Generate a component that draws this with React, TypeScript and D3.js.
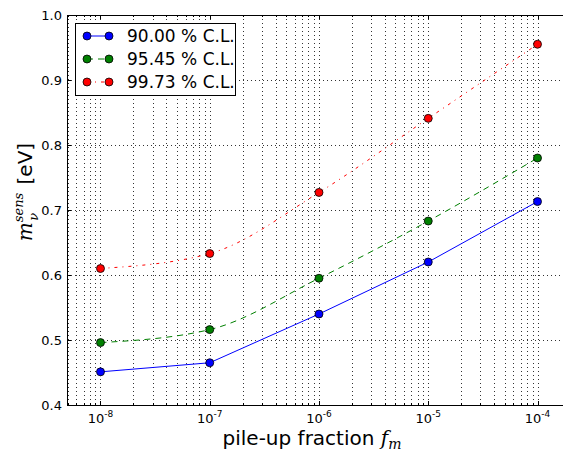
import React, { useEffect, useRef } from 'react';
import * as d3 from 'd3';

// pile-up fraction vs neutrino mass sensitivity, three confidence levels
const fractions = [1e-8, 1e-7, 1e-6, 1e-5, 1e-4];
const cl9000 = [0.451, 0.465, 0.540, 0.620, 0.713];
const cl9545 = [0.496, 0.516, 0.595, 0.683, 0.780];
const cl9973 = [0.610, 0.633, 0.727, 0.841, 0.955];
const seriesLabels = ['90.00 % C.L.', '95.45 % C.L.', '99.73 % C.L.'];
const yTicks = [0.4, 0.5, 0.6, 0.7, 0.8, 0.9, 1.0];
const xTickExps = [-8, -7, -6, -5, -4];

const W = 563;
const H = 452;
const PLOT = { left: 67, right: 565, top: 15, bottom: 405 };
const FONT = 'DejaVu Sans, sans-serif';

const App = () => {
  const svgRef = useRef<SVGSVGElement | null>(null);

  useEffect(() => {
    const svg = d3.select(svgRef.current);
    svg.selectAll('*').remove();

    const x = d3.scaleLog()
      .domain([Math.pow(10, -8.3066), Math.pow(10, -3.7483)])
      .range([PLOT.left, PLOT.right]);
    const y = d3.scaleLinear().domain([0.4, 1.0]).range([PLOT.bottom, PLOT.top]);
    const [x0, x1] = x.domain();

    const g = svg.append('g');

    // grid: x major + minor, y major
    const minor: number[] = [];
    for (let e = -9; e <= -3; e++) {
      for (let k = 1; k <= 9; k++) {
        const v = k * Math.pow(10, e);
        if (v >= x0 && v <= x1) minor.push(v);
      }
    }
    g.append('g').selectAll('line').data(minor).enter().append('line')
      .attr('x1', d => Math.round(x(d)) + 0.5).attr('x2', d => Math.round(x(d)) + 0.5)
      .attr('y1', PLOT.top).attr('y2', PLOT.bottom)
      .attr('stroke', '#000').attr('stroke-width', 0.8).attr('stroke-dasharray', '1,3');
    g.append('g').selectAll('line').data(yTicks.slice(1, -1)).enter().append('line')
      .attr('x1', PLOT.left).attr('x2', PLOT.right)
      .attr('y1', d => Math.round(y(d)) + 0.5).attr('y2', d => Math.round(y(d)) + 0.5)
      .attr('stroke', '#000').attr('stroke-width', 0.8).attr('stroke-dasharray', '1,3');

    // ticks (inward)
    const ticks = g.append('g').attr('stroke', '#000').attr('stroke-width', 1);
    minor.forEach(v => {
      const major = xTickExps.some(e => Math.abs(v - Math.pow(10, e)) < v * 1e-6);
      const len = major ? 4 : 2;
      const xx = Math.round(x(v)) + 0.5;
      ticks.append('line').attr('x1', xx).attr('x2', xx).attr('y1', PLOT.bottom).attr('y2', PLOT.bottom - len);
      ticks.append('line').attr('x1', xx).attr('x2', xx).attr('y1', PLOT.top).attr('y2', PLOT.top + len);
    });
    yTicks.forEach(v => {
      const yy = Math.round(y(v)) + 0.5;
      ticks.append('line').attr('x1', PLOT.left).attr('x2', PLOT.left + 4).attr('y1', yy).attr('y2', yy);
    });

    // spines
    g.append('rect')
      .attr('x', PLOT.left + 0.5).attr('y', PLOT.top + 0.5)
      .attr('width', PLOT.right - PLOT.left).attr('height', PLOT.bottom - PLOT.top)
      .attr('fill', 'none').attr('stroke', '#000').attr('stroke-width', 1);

    // tick labels
    yTicks.forEach(v => {
      g.append('text')
        .attr('x', PLOT.left - 5).attr('y', y(v) + 5)
        .attr('text-anchor', 'end').attr('font-family', FONT).attr('font-size', 13)
        .text(v.toFixed(1));
    });
    xTickExps.forEach(e => {
      const t = g.append('text')
        .attr('x', x(Math.pow(10, e))).attr('y', 423)
        .attr('text-anchor', 'middle').attr('font-family', FONT).attr('font-size', 13);
      t.append('tspan').text('10');
      t.append('tspan').attr('dy', -6).attr('font-size', 9).text(String(e));
    });

    // series
    const series = [
      { vals: cl9000, color: '#0000ff', dash: null, curve: d3.curveLinear },
      { vals: cl9545, color: '#008000', dash: '6,5', curve: d3.curveMonotoneX },
      { vals: cl9973, color: '#ff0000', dash: '3,5,1,5', curve: d3.curveMonotoneX },
    ];
    series.forEach(s => {
      const line = d3.line<number>()
        .x((_, i) => x(fractions[i]))
        .y(d => y(d))
        .curve(s.curve);
      g.append('path')
        .attr('d', line(s.vals))
        .attr('fill', 'none').attr('stroke', s.color).attr('stroke-width', 1)
        .attr('stroke-dasharray', s.dash);
      g.append('g').selectAll('circle').data(s.vals).enter().append('circle')
        .attr('cx', (_, i) => x(fractions[i])).attr('cy', d => y(d))
        .attr('r', 4).attr('fill', s.color).attr('stroke', '#000').attr('stroke-width', 0.8);
    });

    // legend
    const lg = g.append('g');
    lg.append('rect')
      .attr('x', 75.5).attr('y', 23.5).attr('width', 160).attr('height', 72)
      .attr('fill', '#fff').attr('stroke', '#000').attr('stroke-width', 1);
    series.forEach((s, i) => {
      const yy = 36 + i * 23;
      lg.append('line')
        .attr('x1', 87).attr('x2', 109).attr('y1', yy).attr('y2', yy)
        .attr('stroke', s.color).attr('stroke-width', 1).attr('stroke-dasharray', s.dash);
      [87, 109].forEach(cx => {
        lg.append('circle').attr('cx', cx).attr('cy', yy).attr('r', 4)
          .attr('fill', s.color).attr('stroke', '#000').attr('stroke-width', 0.8);
      });
      lg.append('text')
        .attr('x', 127).attr('y', yy + 6)
        .attr('font-family', FONT).attr('font-size', 17)
        .text(seriesLabels[i]);
    });

    // axis labels
    const xl = g.append('text')
      .attr('x', 312).attr('y', 445)
      .attr('text-anchor', 'middle').attr('font-family', FONT).attr('font-size', 20);
    xl.append('tspan').text('pile-up fraction ');
    xl.append('tspan').attr('font-family', 'DejaVu Serif, serif').attr('font-style', 'italic').text('f');
    xl.append('tspan').attr('font-family', 'DejaVu Serif, serif').attr('font-style', 'italic')
      .attr('font-size', 14).attr('dy', 4).text('m');

    const yl = g.append('text')
      .attr('transform', 'translate(32,192) rotate(-90)')
      .attr('text-anchor', 'middle').attr('font-family', FONT).attr('font-size', 20);
    yl.append('tspan').attr('font-family', 'DejaVu Serif, serif').attr('font-style', 'italic').text('m');
    yl.append('tspan').attr('font-family', 'DejaVu Serif, serif').attr('font-style', 'italic')
      .attr('font-size', 13).attr('dy', -9).text('sens');
    yl.append('tspan').attr('font-family', 'DejaVu Serif, serif').attr('font-style', 'italic')
      .attr('font-size', 13).attr('dx', -28).attr('dy', 15).text('ν');
    yl.append('tspan').attr('dx', 22).attr('dy', -6).text(' [eV]');
  }, []);

  return (
    <svg ref={svgRef} width={W} height={H}
      style={{ position: 'absolute', left: 0, top: 0, background: '#fff' }} />
  );
};

export default App;
